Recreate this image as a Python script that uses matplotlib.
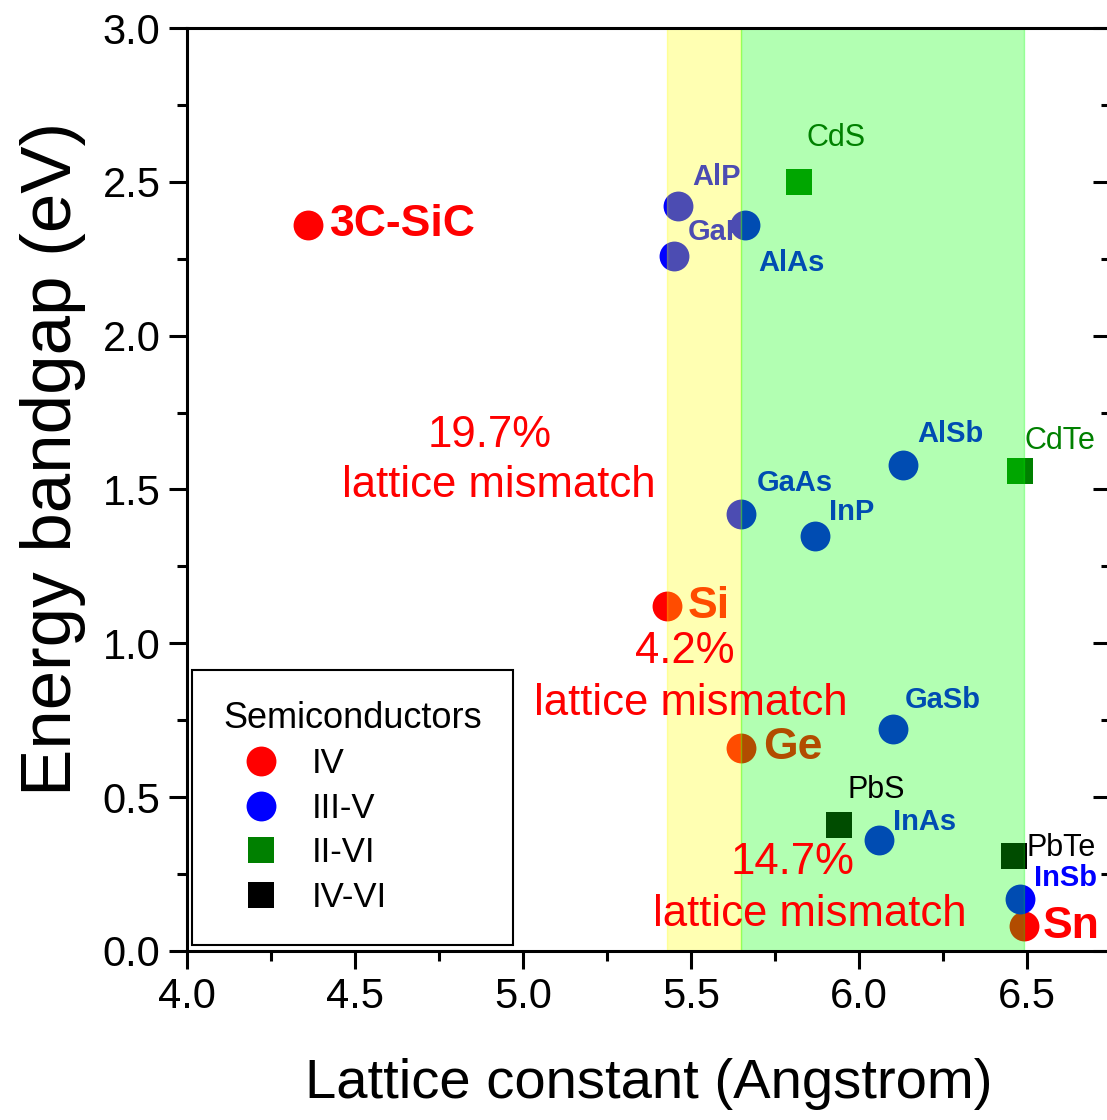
import matplotlib.pyplot as plt
from matplotlib.lines import Line2D

plt.rcParams["font.family"] = ["Liberation Sans", "DejaVu Sans"]

# semiconductor families: lattice constant (Angstrom) and bandgap (eV)
iv_names = ["3C-SiC", "Si", "Ge", "Sn"]
iv_a = [4.36, 5.43, 5.65, 6.49]
iv_eg = [2.36, 1.12, 0.66, 0.08]

iii_v_names = ["AlP", "GaP", "AlAs", "GaAs", "InP", "AlSb", "GaSb", "InAs", "InSb"]
iii_v_a = [5.46, 5.45, 5.66, 5.65, 5.87, 6.13, 6.10, 6.06, 6.48]
iii_v_eg = [2.42, 2.26, 2.36, 1.42, 1.35, 1.58, 0.72, 0.36, 0.17]

ii_vi_names = ["CdS", "CdTe"]
ii_vi_a = [5.82, 6.48]
ii_vi_eg = [2.50, 1.56]

iv_vi_names = ["PbS", "PbTe"]
iv_vi_a = [5.94, 6.46]
iv_vi_eg = [0.41, 0.31]

# label anchor (left, middle) for each compound
label_pos = {
    "3C-SiC": (4.426, 2.36), "Si": (5.491, 1.121), "Ge": (5.714, 0.66), "Sn": (6.548, 0.081),
    "AlP": (5.503, 2.516), "GaP": (5.491, 2.337), "AlAs": (5.699, 2.236),
    "GaAs": (5.696, 1.521), "InP": (5.911, 1.427), "AlSb": (6.173, 1.68),
    "GaSb": (6.137, 0.816), "InAs": (6.101, 0.419), "InSb": (6.521, 0.237),
    "CdS": (5.845, 2.642), "CdTe": (6.494, 1.658),
    "PbS": (5.967, 0.523), "PbTe": (6.50, 0.335),
}

fig = plt.figure(figsize=(11.07, 11.20), dpi=100)
ax = fig.add_axes([0.1689, 0.1509, 0.8347, 0.8241])

ax.plot(iv_a, iv_eg, "o", color="red", ms=21.5, mew=0, zorder=1)
ax.plot(iii_v_a, iii_v_eg, "o", color="blue", ms=21.5, mew=0, zorder=1)
ax.plot(ii_vi_a, ii_vi_eg, "s", color="green", ms=19, mew=0, zorder=1)
ax.plot(iv_vi_a, iv_vi_eg, "s", color="black", ms=19, mew=0, zorder=1)

for n in iv_names:
    x, y = label_pos[n]
    ax.text(x, y, n, color="red", fontsize=32, fontweight="bold", ha="left", va="center", zorder=0.9)
for n in iii_v_names:
    x, y = label_pos[n]
    ax.text(x, y, n, color="blue", fontsize=21, fontweight="bold", ha="left", va="center", zorder=0.9)

# mismatch windows between Si, Ge and Sn
ax.axvspan(iv_a[1], iv_a[2], color="yellow", alpha=0.3, lw=1, zorder=2)
ax.axvspan(iv_a[2], iv_a[3], color="lime", alpha=0.3, lw=1, zorder=2)

for n in ii_vi_names:
    x, y = label_pos[n]
    ax.text(x, y, n, color="green", fontsize=22, ha="left", va="center", zorder=3)
for n in iv_vi_names:
    x, y = label_pos[n]
    ax.text(x, y, n, color="black", fontsize=22, ha="left", va="center", zorder=3)

notes = [("19.7%", 4.902, 1.676), ("lattice mismatch", 4.929, 1.513),
         ("4.2%", 5.482, 0.972), ("lattice mismatch", 5.50, 0.803),
         ("14.7%", 5.801, 0.289), ("lattice mismatch", 5.854, 0.117)]
for t, x, y in notes:
    ax.text(x, y, t, color="red", fontsize=31.5, ha="center", va="center", zorder=3)

ax.set_xlim(4.0, 6.75)
ax.set_ylim(0.0, 3.0)
ax.set_xticks([4.0, 4.5, 5.0, 5.5, 6.0, 6.5])
ax.set_xticks([4.25, 4.75, 5.25, 5.75, 6.25], minor=True)
ax.set_yticks([0.0, 0.5, 1.0, 1.5, 2.0, 2.5, 3.0])
ax.set_yticks([0.25, 0.75, 1.25, 1.75, 2.25, 2.75], minor=True)
ax.tick_params(which="major", direction="out", length=13, width=2.2, labelsize=30, pad=6)
ax.tick_params(which="minor", direction="out", length=7, width=2.2)
for s in ax.spines.values():
    s.set_linewidth(2.2)

right = ax.secondary_yaxis("right")
right.set_yticks([0.0, 0.5, 1.0, 1.5, 2.0, 2.5, 3.0])
right.set_yticks([0.25, 0.75, 1.25, 1.75, 2.25, 2.75], minor=True)
right.tick_params(which="major", direction="in", length=13, width=2.2, labelright=False)
right.tick_params(which="minor", direction="in", length=7, width=2.2)

ax.set_xlabel("Lattice constant (Angstrom)", fontsize=40.5, labelpad=29)
ax.set_ylabel("Energy bandgap (eV)", fontsize=51, labelpad=12, y=0.533)

handles = [
    Line2D([], [], ls="none", marker="o", color="red", ms=21.5, mew=0),
    Line2D([], [], ls="none", marker="o", color="blue", ms=21.5, mew=0),
    Line2D([], [], ls="none", marker="s", color="green", ms=19, mew=0),
    Line2D([], [], ls="none", marker="s", color="black", ms=19, mew=0),
]
leg = ax.legend(handles, ["IV", "III-V", "II-VI", "IV-VI"], title="Semiconductors",
                loc="lower left", bbox_to_anchor=(0.0054, 0.0065), borderaxespad=0,
                fontsize=25, title_fontsize=26, fancybox=False, framealpha=1,
                edgecolor="black", handlelength=2.15, handletextpad=0.4,
                labelspacing=0.33, borderpad=0.9, alignment="left")
leg.get_frame().set_linewidth(1.5)
leg.set_zorder(5)

fig.savefig("out.png", dpi=100)
